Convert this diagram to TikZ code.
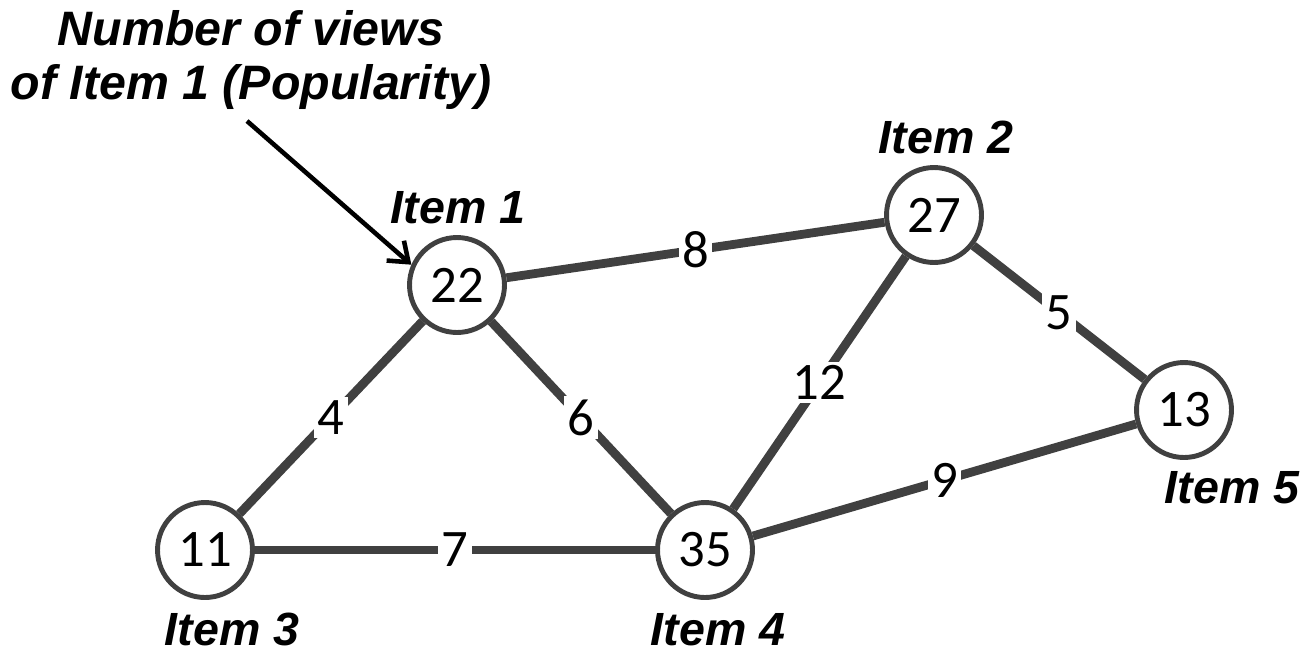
\documentclass[tikz,border=0pt]{standalone}
\usepackage{fontspec}
\setmainfont{Liberation Sans}
\newfontfamily\numfont{Carlito}
\usetikzlibrary{arrows.meta}
\definecolor{linegray}{HTML}{404040}

\begin{document}
\begin{tikzpicture}[x=0.02cm,y=-0.02cm,
    item/.style={circle,draw=linegray,line width=2.8pt,fill=white,minimum size=1.9cm,inner sep=0pt,
      font=\fontsize{30}{36}\selectfont\numfont},
    link/.style={draw=linegray,line width=5pt},
    weight/.style={fill=white,inner sep=2pt,font=\fontsize{30}{36}\selectfont\numfont},
    tag/.style={anchor=base,inner sep=0pt,font=\fontsize{26.5}{31}\selectfont\bfseries\itshape}]
  \useasboundingbox (0,0) rectangle (1307,656);

  % items with their view counts
  \node[item] (n22) at (457,285) {22};
  \node[item] (n27) at (934,215) {27};
  \node[item] (n13) at (1184,410) {13};
  \node[item] (n11) at (205,550) {11};
  \node[item] (n35) at (705,550) {35};

  \node[tag] (t1) at (458,223) {Item 1};
  \node[tag] (t2) at (946,153) {Item 2};
  \node[tag] (t3) at (232,645) {Item 3};
  \node[tag] (t4) at (718,645) {Item 4};
  \node[tag] (t5) at (1232,503) {Item 5};

  % weighted links
  \draw[link] (n22) -- node[weight] {8} (n27);
  \draw[link] (n27) -- node[weight] {5} (n13);
  \draw[link] (n22) -- node[weight] {4} (n11);
  \draw[link] (n22) -- node[weight] {6} (n35);
  \draw[link] (n27) -- node[weight] {12} (n35);
  \draw[link] (n11) -- node[weight] {7} (n35);
  \draw[link] (n35) -- node[weight] {9} (n13);

  % popularity note
  \node[align=center,font=\fontsize{27.5}{31}\selectfont\bfseries\itshape] (note) at (251,60)
    {Number of views\\of Item 1 (Popularity)};
  \coordinate (arrowtail) at (247,121);
  \draw[-{Straight Barb[length=10pt,width=15pt]},line width=2.6pt] (arrowtail) -- (n22.156);
\end{tikzpicture}
\end{document}
